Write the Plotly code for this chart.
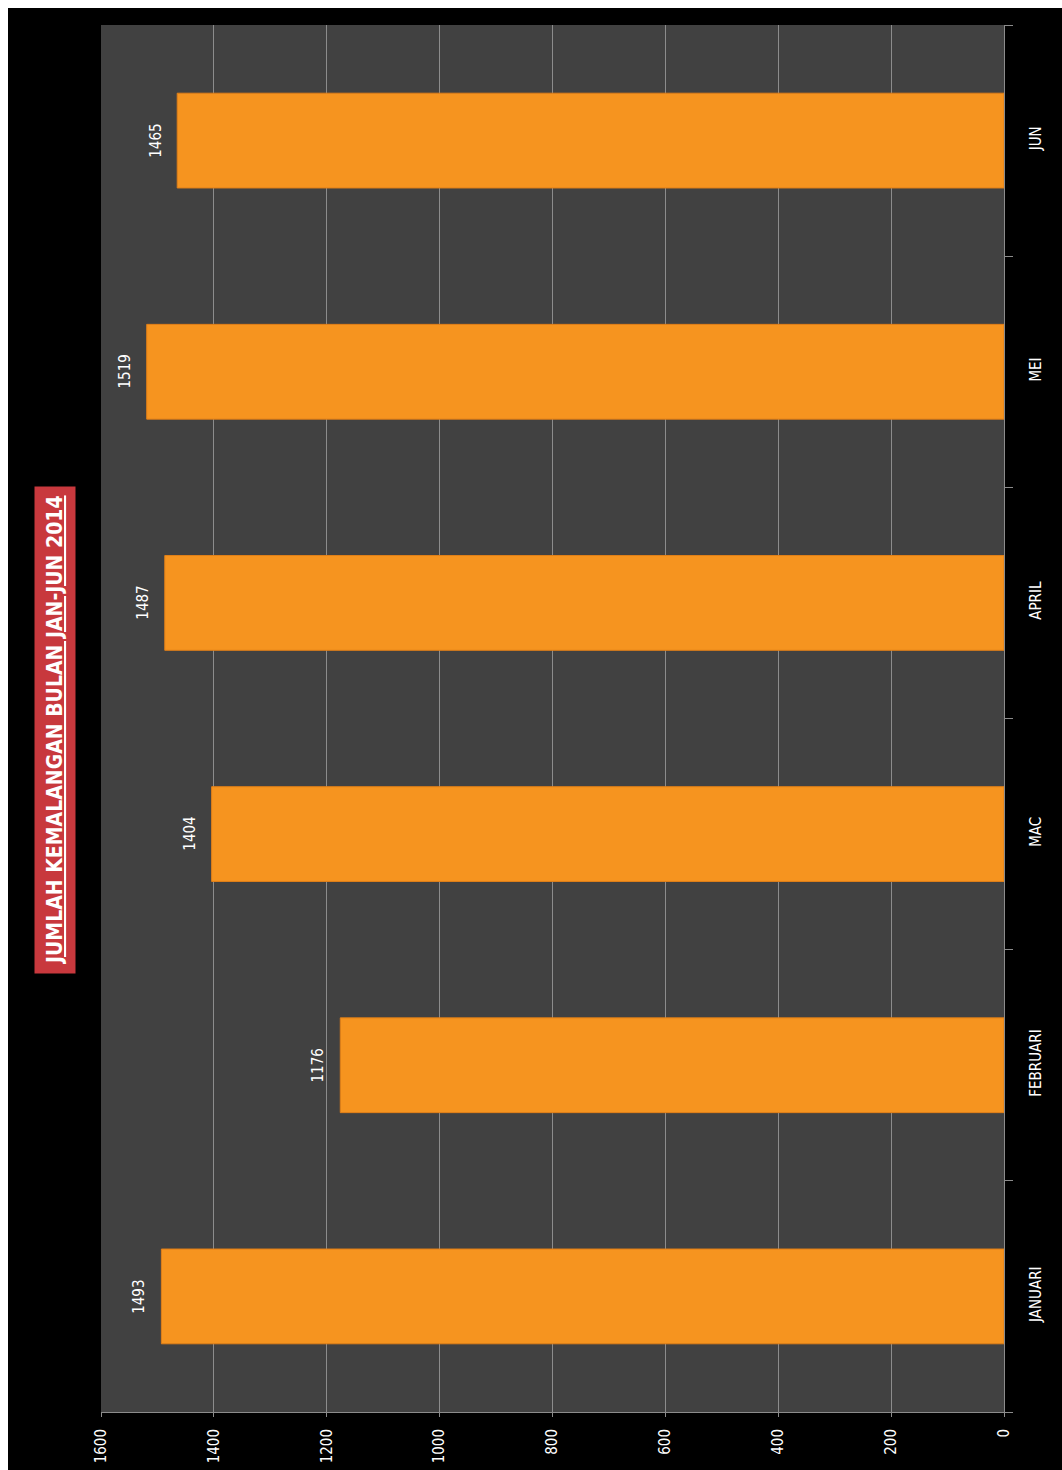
import plotly.graph_objects as go

months = ["JANUARI", "FEBRUARI", "MAC", "APRIL", "MEI", "JUN"]
values = [1493, 1176, 1404, 1487, 1519, 1465]
value_ticks = [0, 200, 400, 600, 800, 1000, 1200, 1400, 1600]
title_text = "JUMLAH KEMALANGAN BULAN JAN-JUN 2014"

FONT = "DejaVu Sans Condensed, Liberation Sans Narrow, Arial Narrow, sans-serif"

fig = go.Figure()
fig.add_trace(go.Bar(
    x=values, y=months, orientation="h",
    marker=dict(color="#F6941F", line=dict(color="#E07F18", width=1)),
    hoverinfo="x+y",
))

for m, v in zip(months, values):
    fig.add_annotation(x=v, y=m, text=str(v), textangle=-90, showarrow=False,
                       xshift=-22, font=dict(color="white", size=15, family=FONT))

W, H = 1062, 1470
L, R, T, B = 101, 58, 25, 58
pw, ph = W - L - R, H - T - B
def px(xp):
    return (xp - L) / pw
def py(yp):
    return 1 - (yp - T) / ph

fig.add_annotation(xref="paper", yref="paper", x=px(55), y=py(730),
                   xanchor="center", yanchor="middle",
                   text="<b><u>" + title_text + "</u></b>", textangle=-90,
                   showarrow=False, bgcolor="#C8383D",
                   font=dict(color="white", size=21, family=FONT),
                   borderpad=8)

# white border strips (top and left) as in the scanned image
fig.add_shape(type="rect", xref="paper", yref="paper", x0=px(-5), x1=px(W + 5),
              y0=py(8), y1=py(-5), fillcolor="white", line=dict(width=0), layer="above")
fig.add_shape(type="rect", xref="paper", yref="paper", x0=px(-5), x1=px(8),
              y0=py(H + 5), y1=py(-5), fillcolor="white", line=dict(width=0), layer="above")

fig.update_layout(
    width=W, height=H,
    margin=dict(l=L, r=R, t=T, b=B, autoexpand=False),
    paper_bgcolor="black",
    plot_bgcolor="#414141",
    bargap=0.59,
    showlegend=False,
    font=dict(family=FONT, color="white", size=15),
    xaxis=dict(
        range=[1600, 0], tickvals=value_ticks, tickangle=-90,
        showgrid=True, gridcolor="#8C8C8C", gridwidth=1,
        showline=True, linecolor="#8C8C8C", linewidth=1,
        ticks="outside", ticklen=4, tickcolor="#8C8C8C",
        tickfont=dict(color="white", size=15, family=FONT),
        ticklabelstandoff=6, automargin=False,
        zeroline=False,
    ),
    yaxis=dict(
        side="right", tickangle=-90, categoryorder="array", categoryarray=months,
        showline=True, linecolor="#8C8C8C", linewidth=1,
        ticks="outside", tickson="boundaries", ticklen=8, tickcolor="#8C8C8C",
        tickfont=dict(color="white", size=15, family=FONT),
        ticklabelstandoff=18, automargin=False,
        showgrid=False,
    ),
)

fig.write_html("out.html")
